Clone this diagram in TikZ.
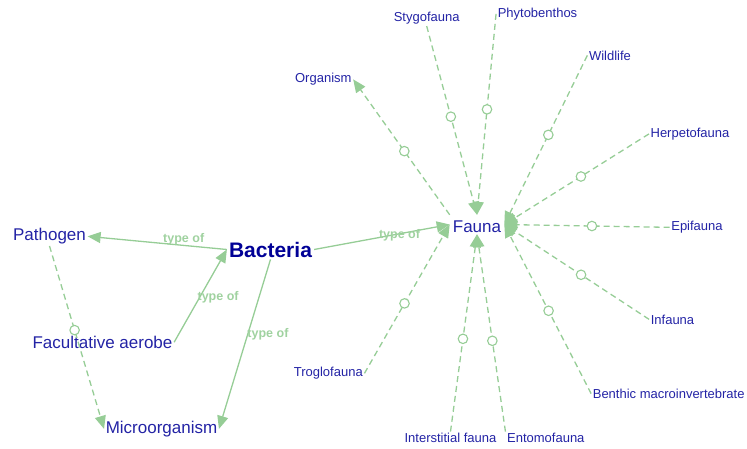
\documentclass[tikz,border=0pt]{standalone}
\usepackage{fontspec}
\setmainfont{Liberation Sans}
\usetikzlibrary{arrows.meta}
\definecolor{tblue}{RGB}{35,35,165}
\definecolor{bblue}{RGB}{0,0,150}
\definecolor{lgreen}{RGB}{150,205,150}
\definecolor{lblgreen}{RGB}{160,210,160}
\begin{document}
\begin{tikzpicture}[x=1pt,y=-1pt,
  big/.style={font=\fontsize{17}{19}\selectfont, text=tblue, inner sep=1.5pt, anchor=base},
  small/.style={font=\fontsize{13}{15}\selectfont, text=tblue, inner sep=1.5pt, anchor=base},
  hub/.style={font=\fontsize{17}{19}\selectfont, text=tblue, anchor=base,
     text height=16pt, text depth=1pt, inner ysep=1pt, inner xsep=3pt},
  main/.style={font=\bfseries\fontsize{21}{23}\selectfont, text=bblue, inner sep=2pt, anchor=base},
  rel/.style={draw=lgreen, line width=1.3pt, -{Triangle[length=13pt,width=11pt]}},
  sim/.style={rel, dash pattern=on 6pt off 4pt},
  lbl/.style={font=\bfseries\fontsize{12.5}{14}\selectfont, text=lblgreen, inner sep=0pt},
  ring/.style={circle, draw=lgreen, fill=white, line width=1.1pt, minimum size=9.5pt, inner sep=0pt, solid},
]
\useasboundingbox (0,0) rectangle (747,448);

% nodes
\node[main] (bac) at (270.5,257) {Bacteria};
\node[hub] (fauna) at (477,232) {Fauna};
\node[big] (path) at (49.5,240.7) {Pathogen};
\node[big] (fac) at (102.5,348.3) {Facultative aerobe};
\node[big] (micro) at (161.5,433.3) {Microorganism};
\node[small] (org) at (323.3,82.7) {Organism};
\node[small] (sty) at (426.7,21.7) {Stygofauna};
\node[small] (phy) at (537.5,17.3) {Phytobenthos};
\node[small] (wild) at (610,60) {Wildlife};
\node[small] (herp) at (690,137.3) {Herpetofauna};
\node[small] (epi) at (697,230.7) {Epifauna};
\node[small] (inf) at (672.5,324) {Infauna};
\node[small] (ben) at (668.7,398.3) {Benthic macroinvertebrate};
\node[small] (trog) at (328.3,376.7) {Troglofauna};
\node[small] (inter) at (450.5,442.7) {Interstitial fauna};
\node[small] (ento) at (545.8,442.7) {Entomofauna};

% type-of relations
\draw[rel] (bac.west) -- node[lbl, pos=0.31, yshift=6pt] (l1) {type of} (path.east);
\draw[rel] (fac.east) -- node[lbl, pos=0.49, anchor=west, xshift=-3pt] (l2) {type of} (bac.west);
\draw[rel] (bac.south) -- node[lbl, pos=0.44, anchor=west, xshift=-1pt] (l3) {type of} (micro.east);
\draw[rel] (bac.east) -- node[lbl, pos=0.63, yshift=-2pt] (l4) {type of} (fauna.west);

% similarity relations
\draw[sim] (path.south) -- node[ring, pos=0.46] (r0) {} (micro.west);
\draw[sim] (fauna.north west) -- node[ring, pos=0.47] (r1) {} (org.east);
\draw[sim] (sty.south) -- node[ring, pos=0.48] (r2) {} (fauna.north);
\draw[sim] (phy.west) -- node[ring, pos=0.475] (r3) {} (fauna.north);
\draw[sim] (wild.west) -- node[ring, pos=0.47] (r4) {} (fauna.east);
\draw[sim] (herp.west) -- node[ring, pos=0.47] (r5) {} (fauna.east);
\draw[sim] (epi.west) -- node[ring, pos=0.47] (r6) {} (fauna.east);
\draw[sim] (inf.west) -- node[ring, pos=0.47] (r7) {} (fauna.east);
\draw[sim] (ben.west) -- node[ring, pos=0.49] (r8) {} (fauna.east);
\draw[sim] (ento.north west) -- node[ring, pos=0.46] (r9) {} (fauna.south);
\draw[sim] (inter.north) -- node[ring, pos=0.47] (r10) {} (fauna.south);
\draw[sim] (trog.east) -- node[ring, pos=0.47] (r11) {} (fauna.west);
\end{tikzpicture}
\end{document}
